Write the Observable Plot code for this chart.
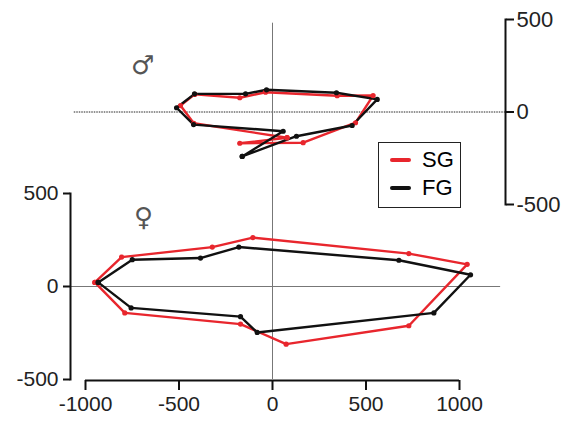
<!DOCTYPE html>
<html><head><meta charset="utf-8">
<script src="https://cdn.jsdelivr.net/npm/d3@7"></script>
<script src="https://cdn.jsdelivr.net/npm/@observablehq/plot@0.6"></script>
<style>
body{margin:0;background:#fff;}
#wrap{position:relative;width:565px;height:421px;font-family:"Liberation Sans",Arial,sans-serif;overflow:hidden;}
#wrap svg{position:absolute;left:0;top:0;}
.sym{position:absolute;font-family:"DejaVu Sans",sans-serif;color:#555;font-size:26px;line-height:1;}
#legend{position:absolute;left:378px;top:142px;width:81px;height:64px;border:1.5px solid #222;background:#fff;}
.li{position:absolute;left:11px;height:24px;font-size:22px;line-height:24px;}
.li span.sw{position:absolute;left:0;top:10px;width:21px;height:4px;border-radius:2px;}
.li span.lb{position:absolute;left:32px;top:0;}
</style></head><body><div id="wrap"></div>
<script>
// ---- data ----
const seriesNames = ["SG", "FG"];
const seriesColors = ["#e8262d", "#111111"];
const xTicks = [-1000, -500, 0, 500, 1000];
const yTicks = [-500, 0, 500];

// male (top panel)
const maleSG_x = [78, -175, 164, 444, 538, 346, -37, -175, -416, -492, -421, 78];
const maleSG_y = [-139, -169, -166, -58, 89, 88, 107, 77, 95, 35, -61, -139];
const maleFG_x = [-162, 128, 426, 560, 342, -32, -144, -417, -513, -422, 57, -162];
const maleFG_y = [-240, -131, -73, 68, 104, 120, 98, 98, 23, -68, -104, -240];

// female (bottom panel)
const femaleSG_x = [-950, -807, -322, -105, 729, 1041, 729, 73, -171, -790, -950];
const femaleSG_y = [22, 158, 212, 263, 177, 119, -211, -310, -202, -142, 22];
const femaleFG_x = [-932, -750, -385, -180, 676, 1059, 863, -82, -171, -756, -932];
const femaleFG_y = [22, 144, 153, 212, 141, 63, -142, -247, -162, -115, 22];

function rows(xs, ys, s) { return xs.map((x, i) => ({x, y: ys[i], s})); }
const maleData = [...rows(maleSG_x, maleSG_y, "SG"), ...rows(maleFG_x, maleFG_y, "FG")];
const femaleData = [...rows(femaleSG_x, femaleSG_y, "SG"), ...rows(femaleFG_x, femaleFG_y, "FG")];

const color = {domain: seriesNames, range: seriesColors};
const wrap = document.getElementById("wrap");
const fmt = d => String(d);

function seriesMarks(data) {
  return [
    Plot.line(data, {x: "x", y: "y", z: "s", stroke: "s", strokeWidth: 2.4, curve: "linear"}),
    Plot.dot(data, {x: "x", y: "y", fill: "s", r: 2.6})
  ];
}

// bottom panel (female)
const bottom = Plot.plot({
  width: 565, height: 421,
  marginLeft: 70, marginRight: 55, marginTop: 193, marginBottom: 42,
  x: {domain: [-1000, 1000], range: [85, 459], axis: null},
  y: {domain: [-500, 500], range: [379, 193], axis: null},
  color,
  style: {background: "transparent", fontFamily: "Liberation Sans, Arial, sans-serif", color: "#222"},
  marks: [
    Plot.ruleY([0], {x1: -1080, x2: 1220, stroke: "#777", strokeWidth: 1}),
    Plot.ruleX([0], {y1: d3.max(yTicks), y2: d3.min(yTicks), stroke: "#777", strokeWidth: 1}),
    ...seriesMarks(femaleData),
    Plot.frame({anchor: "left", stroke: "#111", strokeWidth: 2}),
    Plot.axisY(yTicks, {anchor: "left", label: null, tickFormat: fmt, tickSize: 7, tickPadding: 5, fontSize: 21, strokeWidth: 2, stroke: "#111", fill: "#222"}),
    Plot.ruleY([d3.min(yTicks)], {x1: d3.min(xTicks), x2: d3.max(xTicks), stroke: "#111", strokeWidth: 2, dy: 1}),
    Plot.axisX(xTicks, {anchor: "bottom", label: null, tickFormat: fmt, tickSize: 10, tickPadding: 6, fontSize: 21, strokeWidth: 2, stroke: "#111", fill: "#222", dy: 1})
  ]
});
wrap.appendChild(bottom);

// top panel (male)
const topPlot = Plot.plot({
  width: 565, height: 421,
  marginLeft: 85, marginRight: 60, marginTop: 19, marginBottom: 217,
  x: {domain: [-1000, 1000], range: [85, 459], axis: null},
  y: {domain: [-500, 500], range: [204, 19], axis: null},
  color,
  style: {background: "transparent", fontFamily: "Liberation Sans, Arial, sans-serif", color: "#222"},
  marks: [
    Plot.ruleY([0], {x1: -1060, x2: 1246, stroke: "#222", strokeWidth: 1, strokeDasharray: "1.5,1"}),
    Plot.ruleX([0], {y1: 480, y2: d3.min(yTicks), stroke: "#777", strokeWidth: 1}),
    ...seriesMarks(maleData),
    Plot.frame({anchor: "right", stroke: "#111", strokeWidth: 2}),
    Plot.axisY(yTicks, {anchor: "right", label: null, tickFormat: fmt, tickSize: 8, tickPadding: 3, fontSize: 22, strokeWidth: 2, stroke: "#111", fill: "#222"})
  ]
});
wrap.appendChild(topPlot);

// sex symbols
const symbols = [["\u2642", 131, 52], ["\u2640", 134, 204]];
symbols.forEach(([t, l, tp]) => {
  const d = document.createElement("div");
  d.className = "sym"; d.textContent = t;
  d.style.left = l + "px"; d.style.top = tp + "px";
  wrap.appendChild(d);
});

// legend
const lg = document.createElement("div");
lg.id = "legend";
seriesNames.forEach((n, i) => {
  const it = document.createElement("div");
  it.className = "li";
  it.style.top = (5 + i * 28) + "px";
  it.innerHTML = `<span class="sw" style="background:${seriesColors[i]}"></span><span class="lb">${n}</span>`;
  lg.appendChild(it);
});
wrap.appendChild(lg);
</script>
</body></html>
